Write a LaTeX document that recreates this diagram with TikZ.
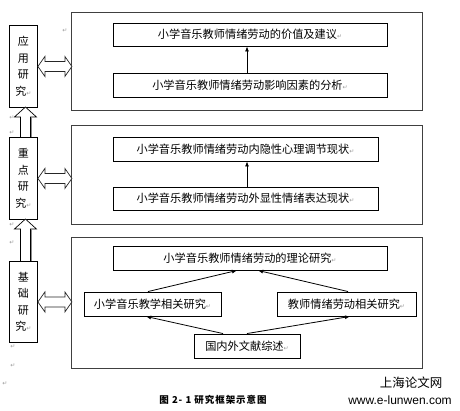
\documentclass[tikz,border=0pt]{standalone}
\usepackage{fontspec}
\setmainfont{Liberation Sans}
\newfontfamily\cjk{Noto Sans CJK SC}
\newfontfamily\cjkcap[LetterSpace=10]{Noto Sans CJK SC}
\newfontfamily\dv{DejaVu Sans}
\usetikzlibrary{arrows.meta}
\newcommand\pmk{{\dv\fontsize{6}{6}\selectfont\color{black!40}↵}}
\begin{document}
\begin{tikzpicture}[x=1pt,y=-1pt,
  inner/.style={draw, line width=0.9pt, inner sep=0pt, font=\cjk\fontsize{11.2}{13}\selectfont},
  outer/.style={draw=black!75, line width=0.7pt, inner sep=0pt, anchor=north west},
  side/.style={draw, line width=0.9pt, inner sep=0pt, anchor=north west, minimum width=28pt,
    font=\cjk\fontsize{11}{16.5}\selectfont, align=center},
  conn/.style={line width=0.8pt, -{Latex[length=5pt,width=4pt]}},
  pm/.style={text=black!40, font=\dv\fontsize{6}{6}\selectfont, inner sep=0pt},
  blk/.style={draw=black!85, line width=0.7pt, fill=white}]
\useasboundingbox (0,0) rectangle (460,411);

% outer frames
\node[outer, minimum width=351pt, minimum height=98pt] (o1) at (71,12) {};
\node[outer, minimum width=351pt, minimum height=99pt] (o2) at (71,125) {};
\node[outer, minimum width=351pt, minimum height=131pt] (o3) at (71,237) {};

% side boxes
\node[side, minimum height=82pt] (l1) at (9,25) {应\\用\\研\\究\pmk};
\node[side, minimum height=82pt] (l2) at (9,137) {重\\点\\研\\究\pmk};
\node[side, minimum height=81pt] (l3) at (9,261) {基\\础\\研\\究\pmk};

% inner boxes
\node[inner, minimum width=274pt, minimum height=23pt] (b1) at (250,34.5) {小学音乐教师情绪劳动的价值及建议\pmk};
\node[inner, minimum width=274pt, minimum height=24pt] (b2) at (250,85) {小学音乐教师情绪劳动影响因素的分析\pmk};
\node[inner, minimum width=265pt, minimum height=24pt] (b3) at (245.5,149) {小学音乐教师情绪劳动内隐性心理调节现状\pmk};
\node[inner, minimum width=265pt, minimum height=23pt] (b4) at (245.5,198.5) {小学音乐教师情绪劳动外显性情绪表达现状\pmk};
\node[inner, minimum width=274pt, minimum height=24pt] (b5) at (250,258) {小学音乐教师情绪劳动的理论研究\pmk};
\node[inner, minimum width=137pt, minimum height=24pt] (b6) at (152.5,304) {小学音乐教学相关研究\pmk};
\node[inner, minimum width=139pt, minimum height=24pt] (b7) at (346.5,304) {教师情绪劳动相关研究\pmk};
\node[inner, minimum width=106pt, minimum height=24pt] (b8) at (247,346) {国内外文献综述\pmk};

% connectors
\draw[conn] ([xshift=-3pt]b2.north) -- ([xshift=-3pt]b1.south);
\draw[conn] ([xshift=1.5pt]b4.north) -- ([xshift=1.5pt]b3.south);
\draw[conn] ([xshift=-4.5pt]b6.north) -- ([xshift=-13pt]b5.south);
\draw[conn] ([xshift=1.5pt]b7.north) -- ([xshift=8pt]b5.south);
\draw[conn] ([xshift=-24pt]b8.north) -- ([xshift=-6.5pt]b6.south);
\draw[conn] (b8.north) -- ([xshift=3.5pt]b7.south);

% horizontal double block arrows
\foreach \l in {l1,l2,l3}{
  \draw[blk] (\l.east) -- ++(7,-10) -- ++(0,5) -- ++(20,0) -- ++(0,-5) -- ++(7,10)
    -- ++(-7,10) -- ++(0,-5) -- ++(-20,0) -- ++(0,5) -- cycle;
}

% vertical block arrows
\draw[blk, draw=black] ([xshift=-3pt]l2.north) -- ++(0,-20) -- ++(-6,0) -- ++(11,-10)
  -- ++(11,10) -- ++(-6,0) -- ++(0,20);
\draw[black!45, line width=0.9pt] ([xshift=8pt]l2.north) -- ++(0,-20);
\draw[blk, draw=black] ([xshift=-3pt]l3.north) -- ++(0,-32) -- ++(-6,0) -- ++(11,-10)
  -- ++(11,10) -- ++(-6,0) -- ++(0,32);
\draw[black!45, line width=0.9pt] ([xshift=8pt]l3.north) -- ++(0,-32);

% stray paragraph marks
\node[pm] (p1) at (65,31) {↵};
\node[pm] (p2) at (12,118) {↵};
\node[pm] (p3) at (12,133) {↵};
\node[pm] (p4) at (12,225) {↵};
\node[pm] (p5) at (12,243) {↵};
\node[pm] (p6) at (13,347) {↵};
\node[pm] (p7) at (13,366) {↵};
\node[pm] (p8) at (5,384) {↵};

% caption and watermark
\node[font=\cjkcap\bfseries\fontsize{9.5}{10}\selectfont] (cap) at (213,400) {图 2- 1 研究框架示意图};
\node[font=\cjk\fontsize{12.5}{13}\selectfont] (wm1) at (411,383) {上海论文网};
\node[font=\fontsize{12}{12}\selectfont] (wm2) at (400,400) {www.e-lunwen.com};
\end{tikzpicture}
\end{document}
